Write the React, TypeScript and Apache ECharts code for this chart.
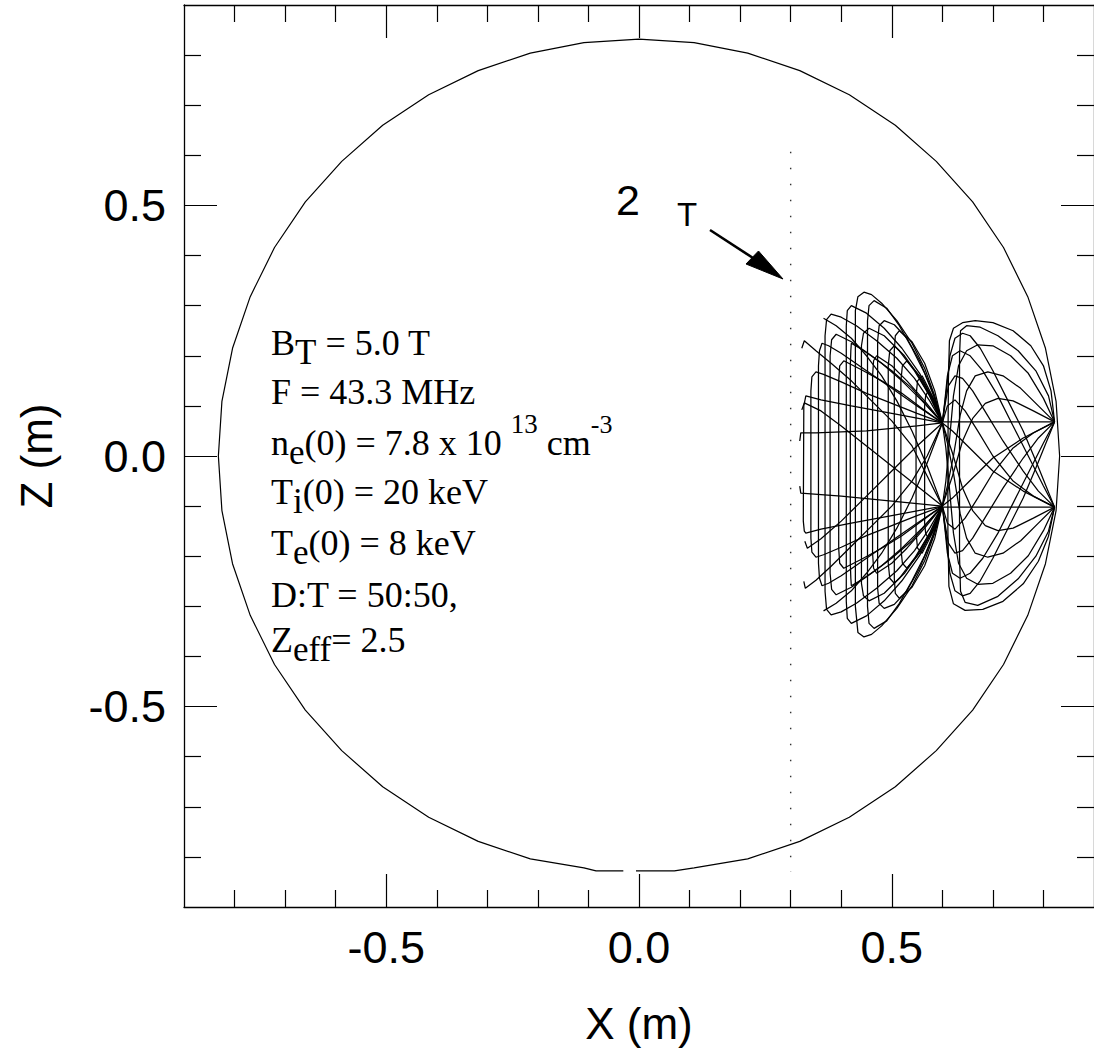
import React, { useEffect, useRef } from "react";
import * as echarts from "echarts";

// ---- axis ticks ----
const xMajorTicks = [-0.5, 0, 0.5];
const xMinorTicks = [-0.8, -0.7, -0.6, -0.4, -0.3, -0.2, -0.1, 0.1, 0.2, 0.3, 0.4, 0.6, 0.7, 0.8];
const zMajorTicks = [-0.5, 0, 0.5];
const zMinorTicks = [-0.8, -0.7, -0.6, -0.4, -0.3, -0.2, -0.1, 0.1, 0.2, 0.3, 0.4, 0.6, 0.7, 0.8];

// ---- plasma boundary (x, z) ----
const plasmaBoundary = [
  [-0.006, -0.828], [0.07, -0.828], [0.109, -0.822], [0.215, -0.804], [0.318, -0.769], [0.416, -0.721],
  [0.507, -0.66], [0.588, -0.588], [0.66, -0.507], [0.721, -0.416], [0.769, -0.318], [0.804, -0.215],
  [0.825, -0.109], [0.832, 0], [0.825, 0.109], [0.804, 0.215], [0.769, 0.318], [0.721, 0.416],
  [0.66, 0.507], [0.588, 0.588], [0.507, 0.66], [0.416, 0.721], [0.318, 0.769], [0.215, 0.804],
  [0.109, 0.825], [0, 0.832], [-0.109, 0.825], [-0.215, 0.804], [-0.318, 0.769], [-0.416, 0.721],
  [-0.507, 0.66], [-0.588, 0.588], [-0.66, 0.507], [-0.721, 0.416], [-0.769, 0.318], [-0.804, 0.215],
  [-0.825, 0.109], [-0.832, 0], [-0.825, -0.109], [-0.804, -0.215], [-0.769, -0.318], [-0.721, -0.416],
  [-0.66, -0.507], [-0.588, -0.588], [-0.507, -0.66], [-0.416, -0.721], [-0.318, -0.769], [-0.215, -0.804],
  [-0.109, -0.822], [-0.085, -0.828], [-0.031, -0.828],
];

// ---- 2 Omega_T resonance layer ----
const resonanceLayer = [[0.3, 0.607], [0.3, -0.83]];

// ---- ray paths, right region (antenna to focus) ----
const rayLoopOuter = [[0.822, 0.068], [0.815, 0.13], [0.8, 0.18], [0.775, 0.22], [0.74, 0.25], [0.7, 0.266], [0.665, 0.27], [0.64, 0.266], [0.622, 0.255], [0.614, 0.23], [0.612, 0.15], [0.611, 0.0], [0.611, -0.15], [0.613, -0.26], [0.622, -0.295], [0.645, -0.308], [0.68, -0.306], [0.72, -0.29], [0.76, -0.255], [0.79, -0.21], [0.81, -0.16], [0.822, -0.102]];
const rayLoopInner = [[0.822, 0.068], [0.81, 0.12], [0.785, 0.17], [0.75, 0.21], [0.71, 0.24], [0.675, 0.257], [0.648, 0.26], [0.636, 0.25], [0.634, 0.2], [0.634, 0.0], [0.634, -0.2], [0.636, -0.27], [0.645, -0.292], [0.67, -0.298], [0.71, -0.28], [0.75, -0.245], [0.785, -0.2], [0.81, -0.15], [0.822, -0.102]];
const rayUpperArch1 = [[0.822, -0.102], [0.8, -0.06], [0.77, 0.0], [0.74, 0.06], [0.71, 0.12], [0.68, 0.17], [0.655, 0.2], [0.635, 0.21], [0.62, 0.2], [0.61, 0.16], [0.605, 0.11], [0.6, 0.066]];
const rayUpperArch2 = [[0.822, -0.102], [0.79, -0.07], [0.76, -0.03], [0.72, 0.03], [0.69, 0.08], [0.66, 0.13], [0.64, 0.155], [0.625, 0.16], [0.612, 0.14], [0.605, 0.1], [0.6, 0.066]];
const rayUpperArch3 = [[0.822, -0.102], [0.78, -0.08], [0.74, -0.05], [0.7, 0.0], [0.67, 0.05], [0.645, 0.09], [0.625, 0.112], [0.61, 0.1], [0.6, 0.066]];
const rayUpperArch4 = [[0.822, -0.102], [0.76, -0.07], [0.7, -0.03], [0.65, 0.02], [0.62, 0.05], [0.6, 0.066]];
const rayUpperArch5 = [[0.822, -0.102], [0.805, -0.06], [0.785, -0.01], [0.76, 0.05], [0.73, 0.11], [0.7, 0.17], [0.675, 0.215], [0.655, 0.24], [0.64, 0.245], [0.625, 0.235], [0.615, 0.2], [0.608, 0.13], [0.6, 0.066]];
const rayLowerArch1 = [[0.822, 0.068], [0.8, 0.026], [0.77, -0.034], [0.74, -0.094], [0.71, -0.154], [0.68, -0.204], [0.655, -0.234], [0.635, -0.244], [0.62, -0.234], [0.61, -0.194], [0.605, -0.144], [0.6, -0.1]];
const rayLowerArch2 = [[0.822, 0.068], [0.79, 0.036], [0.76, -0.004], [0.72, -0.064], [0.69, -0.114], [0.66, -0.164], [0.64, -0.189], [0.625, -0.194], [0.612, -0.174], [0.605, -0.134], [0.6, -0.1]];
const rayLowerArch3 = [[0.822, 0.068], [0.78, 0.046], [0.74, 0.016], [0.7, -0.034], [0.67, -0.084], [0.645, -0.124], [0.625, -0.146], [0.61, -0.134], [0.6, -0.1]];
const rayLowerArch4 = [[0.822, 0.068], [0.76, 0.036], [0.7, -0.004], [0.65, -0.054], [0.62, -0.084], [0.6, -0.1]];
const rayLowerArch5 = [[0.822, 0.068], [0.805, 0.026], [0.785, -0.024], [0.76, -0.084], [0.73, -0.144], [0.7, -0.204], [0.675, -0.249], [0.655, -0.274], [0.64, -0.279], [0.625, -0.269], [0.615, -0.234], [0.608, -0.164], [0.6, -0.1]];
const rayTopLaunch1 = [[0.822, 0.068], [0.8, 0.115], [0.77, 0.165], [0.735, 0.2], [0.7, 0.22], [0.67, 0.222], [0.648, 0.21], [0.632, 0.18], [0.622, 0.12], [0.614, 0.03], [0.607, -0.05], [0.6, -0.1]];
const rayTopLaunch2 = [[0.822, 0.068], [0.79, 0.1], [0.755, 0.135], [0.72, 0.16], [0.69, 0.168], [0.665, 0.16], [0.648, 0.13], [0.635, 0.08], [0.622, 0.0], [0.61, -0.06], [0.6, -0.1]];
const rayTopLaunch3 = [[0.822, 0.068], [0.78, 0.09], [0.74, 0.11], [0.71, 0.115], [0.685, 0.105], [0.66, 0.075], [0.64, 0.03], [0.62, -0.04], [0.6, -0.1]];
const rayBottomLaunch1 = [[0.822, -0.102], [0.8, -0.149], [0.77, -0.199], [0.735, -0.234], [0.7, -0.254], [0.67, -0.256], [0.648, -0.244], [0.632, -0.214], [0.622, -0.154], [0.614, -0.064], [0.607, 0.016], [0.6, 0.066]];
const rayBottomLaunch2 = [[0.822, -0.102], [0.79, -0.134], [0.755, -0.169], [0.72, -0.194], [0.69, -0.202], [0.665, -0.194], [0.648, -0.164], [0.635, -0.114], [0.622, -0.034], [0.61, 0.026], [0.6, 0.066]];
const rayBottomLaunch3 = [[0.822, -0.102], [0.78, -0.124], [0.74, -0.144], [0.71, -0.149], [0.685, -0.139], [0.66, -0.109], [0.64, -0.064], [0.62, 0.006], [0.6, 0.066]];
const rayStraightTop = [[0.822, 0.068], [0.6, 0.068]];
const rayStraightBottom = [[0.822, -0.102], [0.6, -0.102]];

// ---- ray paths, left region (beyond the focus) ----
const rayLeft1 = [[0.6, 0.066], [0.585, 0.12], [0.565, 0.175], [0.54, 0.225], [0.51, 0.27], [0.48, 0.305], [0.46, 0.322], [0.445, 0.327], [0.433, 0.318], [0.428, 0.29], [0.428, -0.3], [0.433, -0.352], [0.445, -0.361], [0.46, -0.356], [0.48, -0.339], [0.51, -0.304], [0.54, -0.259], [0.565, -0.209], [0.585, -0.154], [0.6, -0.1]];
const rayLeft2 = [[0.6, 0.066], [0.585, 0.115], [0.565, 0.165], [0.54, 0.215], [0.515, 0.26], [0.49, 0.295], [0.465, 0.31], [0.455, 0.3], [0.452, 0.27], [0.452, -0.3], [0.455, -0.334], [0.465, -0.344], [0.49, -0.329], [0.515, -0.294], [0.54, -0.249], [0.565, -0.199], [0.585, -0.149], [0.6, -0.1]];
const rayLeft3 = [[0.6, 0.066], [0.575, 0.11], [0.545, 0.155], [0.51, 0.195], [0.47, 0.23], [0.43, 0.26], [0.4, 0.277], [0.38, 0.283], [0.371, 0.272], [0.368, 0.24], [0.368, -0.27], [0.371, -0.306], [0.38, -0.317], [0.4, -0.311], [0.43, -0.294], [0.47, -0.264], [0.51, -0.229], [0.545, -0.189], [0.575, -0.144], [0.6, -0.1]];
const rayLeft4 = [[0.6, 0.066], [0.57, 0.1], [0.54, 0.135], [0.5, 0.17], [0.46, 0.2], [0.42, 0.228], [0.39, 0.243], [0.381, 0.232], [0.378, 0.2], [0.378, -0.234], [0.381, -0.266], [0.39, -0.277], [0.42, -0.262], [0.46, -0.234], [0.5, -0.204], [0.54, -0.169], [0.57, -0.134], [0.6, -0.1]];
const rayLeft5 = [[0.6, 0.066], [0.56, 0.095], [0.52, 0.125], [0.48, 0.15], [0.44, 0.172], [0.405, 0.19], [0.397, 0.18], [0.395, 0.15], [0.395, -0.184], [0.397, -0.214], [0.405, -0.224], [0.44, -0.206], [0.48, -0.184], [0.52, -0.159], [0.56, -0.129], [0.6, -0.1]];
const rayLeft6 = [[0.6, 0.066], [0.55, 0.085], [0.5, 0.105], [0.45, 0.125], [0.4, 0.148], [0.365, 0.163], [0.35, 0.168], [0.342, 0.158], [0.34, 0.13], [0.34, -0.164], [0.342, -0.192], [0.35, -0.202], [0.365, -0.197], [0.4, -0.182], [0.45, -0.159], [0.5, -0.139], [0.55, -0.119], [0.6, -0.1]];
const rayLeft7 = [[0.6, 0.066], [0.575, 0.12], [0.545, 0.17], [0.515, 0.21], [0.485, 0.24], [0.455, 0.255], [0.444, 0.245], [0.44, 0.22], [0.44, -0.254], [0.444, -0.279], [0.455, -0.289], [0.485, -0.274], [0.515, -0.244], [0.545, -0.204], [0.575, -0.154], [0.6, -0.1]];
const rayLeft8 = [[0.6, 0.066], [0.58, 0.13], [0.555, 0.19], [0.53, 0.235], [0.505, 0.262], [0.485, 0.27], [0.475, 0.26], [0.472, 0.23], [0.472, -0.264], [0.475, -0.294], [0.485, -0.304], [0.505, -0.296], [0.53, -0.269], [0.555, -0.224], [0.58, -0.164], [0.6, -0.1]];
const rayLeft9 = [[0.6, 0.066], [0.575, 0.12], [0.55, 0.165], [0.525, 0.2], [0.505, 0.22], [0.496, 0.21], [0.493, 0.18], [0.493, -0.214], [0.496, -0.244], [0.505, -0.254], [0.525, -0.234], [0.55, -0.199], [0.575, -0.154], [0.6, -0.1]];
const rayLeft10 = [[0.6, 0.066], [0.58, 0.115], [0.555, 0.16], [0.53, 0.19], [0.521, 0.18], [0.518, 0.15], [0.518, -0.184], [0.521, -0.214], [0.53, -0.224], [0.555, -0.194], [0.58, -0.149], [0.6, -0.1]];
const rayLeft11 = [[0.6, 0.066], [0.585, 0.11], [0.57, 0.14], [0.56, 0.16], [0.551, 0.15], [0.548, 0.12], [0.548, -0.154], [0.551, -0.184], [0.56, -0.194], [0.57, -0.174], [0.585, -0.144], [0.6, -0.1]];
const rayLeft12 = [[0.6, 0.066], [0.55, 0.1], [0.5, 0.135], [0.45, 0.17], [0.4, 0.205], [0.375, 0.22], [0.362, 0.225], [0.357, 0.21], [0.355, 0.18], [0.355, -0.214], [0.357, -0.244], [0.362, -0.259], [0.375, -0.254], [0.4, -0.239], [0.45, -0.204], [0.5, -0.169], [0.55, -0.134], [0.6, -0.1]];
const rayLeft13 = [[0.6, 0.066], [0.58, 0.115], [0.555, 0.165], [0.52, 0.215], [0.485, 0.255], [0.45, 0.285], [0.42, 0.3], [0.412, 0.29], [0.41, 0.26], [0.41, -0.29], [0.412, -0.324], [0.42, -0.334], [0.45, -0.319], [0.485, -0.289], [0.52, -0.249], [0.555, -0.199], [0.58, -0.149], [0.6, -0.1]];
const rayLeft14 = [[0.6, 0.066], [0.5, 0.085], [0.42, 0.1], [0.36, 0.112], [0.33, 0.12], [0.326, 0.1], [0.325, -0.13], [0.327, -0.15], [0.33, -0.154], [0.36, -0.146], [0.42, -0.134], [0.5, -0.119], [0.6, -0.1]];
const rayLeft15 = [[0.6, 0.066], [0.585, 0.13], [0.565, 0.185], [0.54, 0.228], [0.515, 0.25], [0.507, 0.24], [0.505, 0.21], [0.505, -0.244], [0.507, -0.274], [0.515, -0.284], [0.54, -0.262], [0.565, -0.219], [0.585, -0.164], [0.6, -0.1]];
const rayLeft16 = [[0.6, 0.066], [0.588, 0.1], [0.578, 0.122], [0.572, 0.13], [0.567, 0.12], [0.565, 0.1], [0.565, -0.134], [0.567, -0.154], [0.572, -0.164], [0.578, -0.156], [0.588, -0.134], [0.6, -0.1]];
const rayLeft17 = [[0.6, 0.066], [0.565, 0.11], [0.53, 0.15], [0.5, 0.18], [0.47, 0.2], [0.464, 0.19], [0.462, 0.16], [0.462, -0.194], [0.464, -0.224], [0.47, -0.234], [0.5, -0.214], [0.53, -0.184], [0.565, -0.144], [0.6, -0.1]];
const rayLeft18 = [[0.6, 0.066], [0.56, 0.11], [0.52, 0.15], [0.48, 0.185], [0.445, 0.21], [0.42, 0.225], [0.419, 0.21], [0.418, 0.18], [0.418, -0.214], [0.419, -0.244], [0.42, -0.259], [0.445, -0.244], [0.48, -0.219], [0.52, -0.184], [0.56, -0.144], [0.6, -0.1]];
const rayHook1 = [[0.6, -0.1], [0.57, -0.04], [0.54, 0.02], [0.5, 0.07], [0.46, 0.11], [0.42, 0.15], [0.38, 0.185], [0.35, 0.21], [0.327, 0.23], [0.322, 0.215]];
const rayHook2 = [[0.6, -0.1], [0.55, -0.06], [0.5, -0.02], [0.45, 0.02], [0.4, 0.06], [0.36, 0.09], [0.327, 0.106], [0.322, 0.092]];
const rayHook3 = [[0.6, 0.066], [0.55, 0.06], [0.5, 0.055], [0.45, 0.05], [0.4, 0.048], [0.35, 0.046], [0.32, 0.046], [0.318, 0.03]];
const rayHook4 = [[0.6, -0.1], [0.5, -0.09], [0.4, -0.08], [0.32, -0.074], [0.318, -0.06]];
const rayHook5 = [[0.6, 0.066], [0.55, 0.02], [0.5, -0.03], [0.45, -0.08], [0.4, -0.13], [0.36, -0.165], [0.333, -0.184], [0.328, -0.17]];
const rayHook6 = [[0.6, 0.066], [0.57, 0.0], [0.54, -0.05], [0.5, -0.1], [0.46, -0.14], [0.42, -0.18], [0.38, -0.22], [0.35, -0.248], [0.329, -0.264], [0.326, -0.25]];
const rayHook7 = [[0.6, -0.1], [0.57, -0.02], [0.54, 0.05], [0.51, 0.11], [0.48, 0.16], [0.45, 0.2], [0.42, 0.235], [0.39, 0.26], [0.365, 0.275]];
const rayHook8 = [[0.6, 0.066], [0.57, -0.014], [0.54, -0.084], [0.51, -0.144], [0.48, -0.194], [0.45, -0.234], [0.42, -0.269], [0.39, -0.294], [0.365, -0.309]];

const rayPaths = [
  rayLoopOuter, rayLoopInner,
  rayUpperArch1, rayUpperArch2, rayUpperArch3, rayUpperArch4, rayUpperArch5,
  rayLowerArch1, rayLowerArch2, rayLowerArch3, rayLowerArch4, rayLowerArch5,
  rayTopLaunch1, rayTopLaunch2, rayTopLaunch3,
  rayBottomLaunch1, rayBottomLaunch2, rayBottomLaunch3,
  rayStraightTop, rayStraightBottom,
  rayLeft1, rayLeft2, rayLeft3, rayLeft4, rayLeft5, rayLeft6,
  rayLeft7, rayLeft8, rayLeft9, rayLeft10, rayLeft11, rayLeft12,
  rayLeft13, rayLeft14, rayLeft15, rayLeft16, rayLeft17, rayLeft18,
  rayHook1, rayHook2, rayHook3, rayHook4, rayHook5, rayHook6, rayHook7, rayHook8,
];

// ---- annotation texts ----
const paramLines = [
  "B{sub|T} = 5.0 T",
  "F = 43.3 MHz",
  "n{sub|e}(0) = 7.8 x 10 {sup|13} cm{sup2|-3}",
  "T{sub|i}(0) = 20 keV",
  "T{sub|e}(0) = 8 keV",
  "D:T = 50:50,",
  "Z{sub|eff}= 2.5",
];
const resonanceLabelMain = "2";
const resonanceLabelSub = "T";

const SERIF = "Liberation Serif";
const SANS = "Liberation Sans";

function buildOption() {
  const tickLine = { color: "#000", width: 1.2 };
  const base = {
    type: "value",
    min: -0.9,
    max: 0.9,
    splitLine: { show: false },
    axisLine: { show: true, onZero: false, lineStyle: { color: "#000", width: 1.3 } },
  };
  const fmt = (v: number) => v.toFixed(1);
  const labelStyle = { fontFamily: SANS, fontSize: 45, color: "#000" };
  const xAxis = [
    {
      ...base, position: "bottom",
      axisTick: { show: true, inside: true, length: 33, customValues: xMajorTicks, lineStyle: tickLine },
      axisLabel: { show: true, customValues: xMajorTicks, formatter: fmt, margin: 18, ...labelStyle },
      name: "X (m)", nameLocation: "middle", nameGap: 94,
      nameTextStyle: { fontFamily: SANS, fontSize: 44, color: "#000" },
    },
    { ...base, position: "bottom", axisLine: { show: false, onZero: false },
      axisTick: { show: true, inside: true, length: 17, customValues: xMinorTicks, lineStyle: tickLine },
      axisLabel: { show: false } },
    { ...base, position: "top",
      axisTick: { show: true, inside: true, length: 33, customValues: xMajorTicks, lineStyle: tickLine },
      axisLabel: { show: false } },
    { ...base, position: "top", axisLine: { show: false, onZero: false },
      axisTick: { show: true, inside: true, length: 17, customValues: xMinorTicks, lineStyle: tickLine },
      axisLabel: { show: false } },
  ];
  const yAxis = [
    {
      ...base, position: "left",
      axisTick: { show: true, inside: true, length: 33, customValues: zMajorTicks, lineStyle: tickLine },
      axisLabel: { show: true, customValues: zMajorTicks, formatter: fmt, margin: 18, ...labelStyle },
      name: "Z (m)", nameLocation: "middle", nameGap: 126, nameRotate: 90,
      nameTextStyle: { fontFamily: SANS, fontSize: 44, color: "#000" },
    },
    { ...base, position: "left", axisLine: { show: false, onZero: false },
      axisTick: { show: true, inside: true, length: 17, customValues: zMinorTicks, lineStyle: tickLine },
      axisLabel: { show: false } },
    { ...base, position: "right",
      axisTick: { show: true, inside: true, length: 33, customValues: zMajorTicks, lineStyle: tickLine },
      axisLabel: { show: false } },
    { ...base, position: "right", axisLine: { show: false, onZero: false },
      axisTick: { show: true, inside: true, length: 17, customValues: zMinorTicks, lineStyle: tickLine },
      axisLabel: { show: false } },
  ];

  const lineSeries = (data: number[][], width: number, extra: any = {}) => ({
    type: "line",
    xAxisIndex: 0,
    yAxisIndex: 0,
    data,
    showSymbol: false,
    symbol: "none",
    silent: true,
    lineStyle: { color: "#000", width, ...extra },
    z: 3,
  });

  const series: any[] = [
    lineSeries(plasmaBoundary, 1.2),
    lineSeries(resonanceLayer, 1.4, { type: [1.5, 14.5], color: "#333" }),
    ...rayPaths.map((p) => lineSeries(p, 1.25)),
  ];

  const rich = {
    sub: { fontFamily: SERIF, fontSize: 35, padding: [18, 0, 0, 0], lineHeight: 48 },
    sup: { fontFamily: SERIF, fontSize: 27, padding: [0, 0, 38, 0], lineHeight: 48 },
    sup2: { fontFamily: SERIF, fontSize: 26, padding: [0, 0, 38, 0], lineHeight: 48 },
  };
  const paramY = [343, 392, 443, 492, 543, 595, 640];
  const graphic: any[] = paramLines.map((t, i) => ({
    type: "text",
    x: 271,
    y: paramY[i],
    silent: true,
    style: {
      text: t,
      fontFamily: SERIF,
      fontSize: 36,
      fill: "#000",
      lineHeight: 48,
      align: "left",
      verticalAlign: "middle",
      rich,
    },
  }));
  graphic.push(
    { type: "text", x: 628, y: 200, silent: true,
      style: { text: resonanceLabelMain, fontFamily: SANS, fontSize: 43, fill: "#000", align: "center", verticalAlign: "middle" } },
    { type: "text", x: 687, y: 214, silent: true,
      style: { text: resonanceLabelSub, fontFamily: SANS, fontSize: 33, fill: "#000", align: "center", verticalAlign: "middle" } },
    { type: "line", silent: true, shape: { x1: 710, y1: 230, x2: 753, y2: 258 }, style: { stroke: "#000", lineWidth: 2.6 } },
    { type: "polygon", silent: true, shape: { points: [[746, 264], [758.5, 251], [783, 279]] }, style: { fill: "#000", stroke: "#000", lineWidth: 1 } },
  );

  return {
    animation: false,
    backgroundColor: "#fff",
    grid: { left: 184, top: 5, width: 914, height: 902, containLabel: false },
    xAxis,
    yAxis,
    series,
    graphic,
  };
}

export default function App() {
  const ref = useRef<HTMLDivElement>(null);
  useEffect(() => {
    if (!ref.current) return;
    const chart = echarts.init(ref.current, null, { renderer: "svg" });
    chart.setOption(buildOption() as any);
    return () => chart.dispose();
  }, []);
  return (
    <div
      ref={ref}
      style={{ position: "fixed", left: 0, top: 0, width: 1094, height: 1061, background: "#fff" }}
    />
  );
}
